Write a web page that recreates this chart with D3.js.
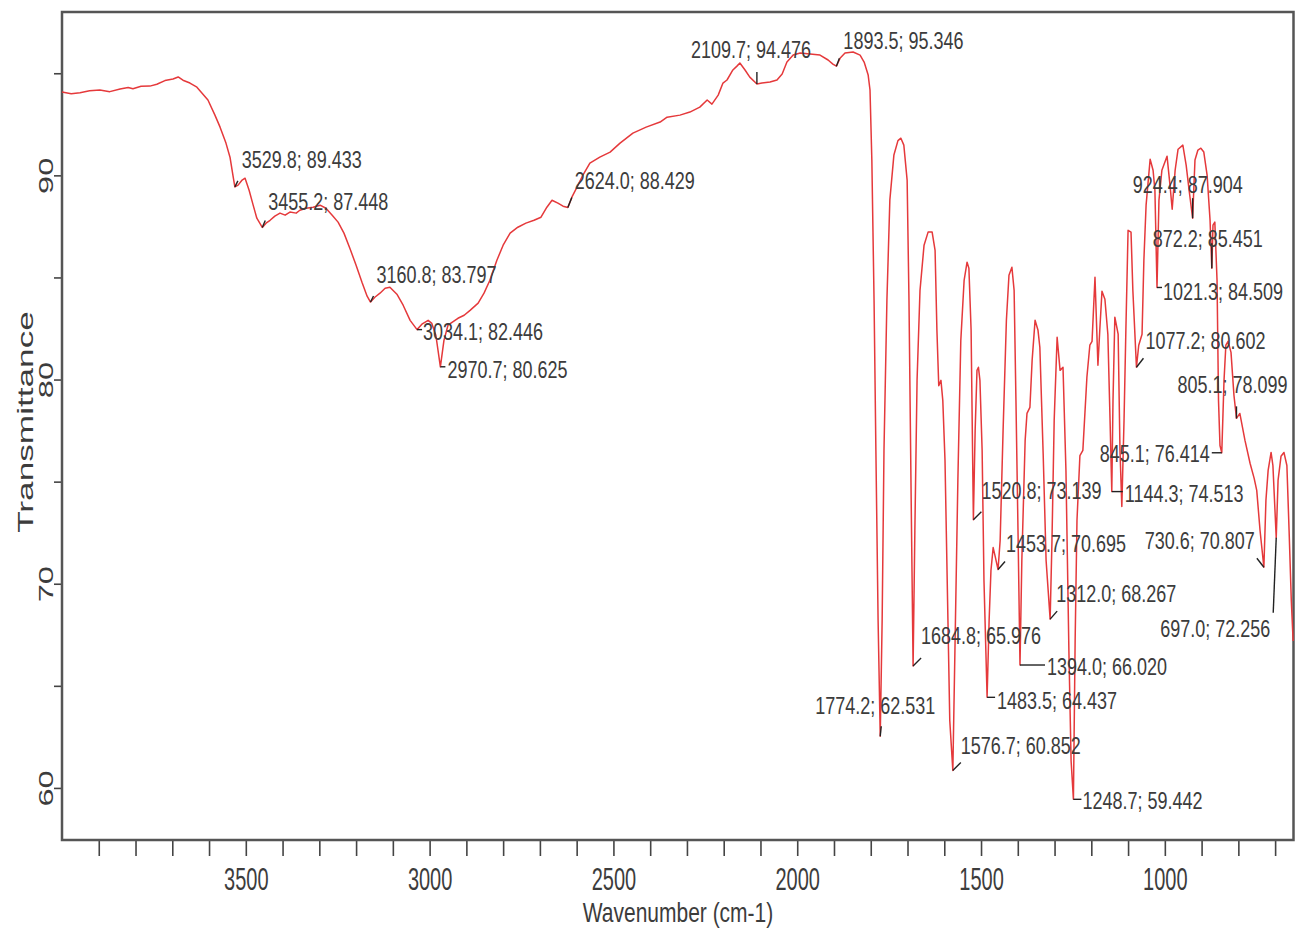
<!DOCTYPE html>
<html>
<head>
<meta charset="utf-8">
<script src="https://cdn.jsdelivr.net/npm/d3@7"></script>
<style>
body { margin: 0; background: #fff; }
svg { display: block; font-family: "Liberation Sans", Arial, sans-serif; }
</style>
</head>
<body>
<svg id="chart" width="1297" height="932"></svg>
<script>
// spectrum (cm-1 / %T)
var wavenumber = [
  4000, 3975, 3951, 3925, 3897, 3870, 3842, 3820, 3807, 3785, 3761, 3742, 3720, 3698, 3684, 3671, 3652, 3633,
  3603, 3584, 3570, 3554, 3543, 3535, 3529.8, 3521, 3510, 3502, 3491, 3480, 3470, 3455.2, 3445, 3434, 3421,
  3407, 3393, 3380, 3363, 3353, 3336, 3317, 3298, 3282, 3265, 3249, 3233, 3217, 3200, 3184, 3170, 3160.8,
  3149, 3135, 3121, 3108, 3089, 3072, 3053, 3034.1, 3021, 3004, 2994, 2983, 2970.7, 2961, 2950, 2939, 2923,
  2906, 2890, 2868, 2852, 2836, 2817, 2800, 2781, 2760, 2738, 2716, 2697, 2681, 2667, 2651, 2637, 2624.0,
  2613, 2599, 2583, 2564, 2537, 2509, 2482, 2447, 2411, 2373, 2354, 2319, 2292, 2265, 2245, 2232, 2215,
  2202, 2191, 2175, 2164, 2156, 2142, 2129, 2109.7, 2096, 2074, 2055, 2041, 2028, 2011, 1992, 1965, 1938,
  1916, 1903, 1893.5, 1883, 1870, 1848, 1829, 1818, 1807, 1802, 1797, 1791, 1786, 1780, 1774.2, 1769, 1764,
  1756, 1748, 1737, 1726, 1718, 1710, 1701, 1696, 1690, 1684.8, 1680, 1674, 1666, 1655, 1644, 1633, 1625,
  1620, 1615, 1609, 1604, 1598, 1590, 1585, 1576.7, 1571, 1563, 1555, 1546, 1538, 1533, 1527, 1520.8, 1516,
  1511, 1507, 1503, 1497, 1492, 1483.5, 1478, 1473, 1467, 1462, 1453.7, 1448, 1440, 1431, 1424, 1416, 1410,
  1405, 1399, 1394.0, 1389, 1380, 1375, 1367, 1361, 1353, 1345, 1340, 1331, 1323, 1312.0, 1307, 1301, 1293,
  1285, 1277, 1269, 1261, 1255, 1248.7, 1244, 1239, 1231, 1223, 1212, 1204, 1198, 1190, 1182, 1177, 1171,
  1163, 1155, 1149, 1144.3, 1141, 1136, 1127, 1122, 1117, 1111, 1106, 1100, 1092, 1087, 1077.2, 1071, 1062,
  1057, 1051, 1040, 1032, 1027, 1021.3, 1016, 1008, 994, 986, 980, 972, 964, 951, 942, 934, 924.4, 918, 910,
  902, 894, 885, 877, 872.2, 869, 864, 858, 854, 850, 845.1, 839, 834, 828, 820, 812, 805.1, 796, 782, 768,
  757, 750, 741, 730.6, 725, 719, 711, 706, 697.0, 692, 684, 676, 668, 662, 656, 651
];
var transmittance = [
  94.08, 94.00, 94.05, 94.14, 94.18, 94.10, 94.23, 94.30, 94.24, 94.36, 94.37, 94.46, 94.64, 94.72, 94.82, 94.66, 94.52, 94.32,
  93.69, 92.95, 92.36, 91.58, 90.89, 90.00, 89.433, 89.52, 89.77, 89.86, 89.27, 88.54, 87.90, 87.448, 87.66, 87.80, 88.00,
  88.15, 88.05, 88.20, 88.15, 88.29, 88.39, 88.44, 88.54, 88.39, 88.05, 87.71, 87.17, 86.43, 85.60, 84.76, 84.08, 83.797,
  84.03, 84.23, 84.47, 84.52, 84.18, 83.64, 82.90, 82.446, 82.71, 82.90, 82.75, 82.17, 80.625, 81.92, 82.66, 82.80, 83.00,
  83.15, 83.39, 83.74, 84.23, 84.86, 85.84, 86.58, 87.17, 87.46, 87.66, 87.80, 87.95, 88.44, 88.78, 88.64, 88.49, 88.429,
  88.93, 89.42, 90.01, 90.60, 90.89, 91.14, 91.58, 92.07, 92.36, 92.61, 92.85, 92.95, 93.10, 93.34, 93.69, 93.49, 93.93,
  94.52, 94.67, 95.16, 95.35, 95.50, 95.16, 94.81, 94.476, 94.52, 94.57, 94.67, 94.96, 95.55, 95.89, 95.99, 95.94, 95.89,
  95.65, 95.45, 95.346, 95.75, 95.99, 96.04, 95.89, 95.55, 94.91, 94.18, 90.75, 83.88, 76.53, 68.20, 62.531, 68.20, 76.50,
  83.90, 88.80, 91.00, 91.70, 91.82, 91.48, 89.76, 83.90, 74.08, 65.976, 72.60, 79.96, 84.37, 86.58, 87.22, 87.22, 86.33,
  82.41, 79.70, 79.96, 78.98, 76.04, 68.20, 63.29, 60.852, 66.73, 75.06, 81.92, 84.86, 85.75, 85.45, 82.41, 73.139, 77.51,
  80.45, 80.60, 79.96, 76.53, 70.16, 64.437, 68.20, 70.65, 71.77, 71.38, 70.695, 72.12, 77.51, 82.90, 85.11, 85.50, 84.37,
  78.98, 72.12, 66.020, 71.14, 77.02, 78.34, 78.64, 80.94, 82.90, 82.41, 81.58, 76.38, 71.14, 68.267, 72.12, 78.00, 82.07,
  80.45, 80.60, 75.55, 66.73, 61.33, 59.442, 67.22, 73.10, 76.28, 76.53, 80.11, 81.68, 81.87, 85.01, 80.70, 82.41, 84.32,
  83.93, 82.22, 78.00, 74.513, 78.98, 83.05, 82.22, 76.53, 73.78, 78.00, 82.41, 87.31, 87.22, 84.37, 80.602, 81.68, 82.22,
  85.84, 88.54, 90.79, 90.25, 89.27, 84.509, 88.78, 90.25, 90.94, 89.52, 88.34, 90.25, 91.28, 91.48, 90.50, 89.27, 87.904, 90.75, 91.24,
  91.33, 91.14, 90.01, 87.80, 85.451, 87.56, 87.71, 84.86, 78.98, 76.77, 76.414, 79.96, 81.68, 81.87, 81.33, 79.23, 78.099, 78.34, 77.02, 75.89,
  75.16, 74.57, 72.61, 70.807, 74.08, 75.55, 76.43, 75.79, 72.256, 75.06, 76.24, 76.43, 75.79, 72.61, 69.18, 67.20
];

// picked peaks
var peakWavenumber = [3529.8, 3455.2, 3160.8, 3034.1, 2970.7, 2624.0, 2109.7, 1893.5, 1774.2, 1684.8, 1576.7, 1520.8, 1483.5,
                      1453.7, 1394.0, 1312.0, 1248.7, 1144.3, 1077.2, 1021.3, 924.4, 872.2, 805.1, 845.1, 730.6, 697.0];
var peakTransmittance = [89.433, 87.448, 83.797, 82.446, 80.625, 88.429, 94.476, 95.346, 62.531, 65.976, 60.852, 73.139, 64.437,
                         70.695, 66.020, 68.267, 59.442, 74.513, 80.602, 84.509, 87.904, 85.451, 78.099, 76.414, 70.807, 72.256];

// axis ticks
var xMinorTicks = d3.range(700, 4000, 100);
var yTicks = [60, 65, 70, 75, 80, 85, 90, 95];

// label placement next to each peak: text offset (tx,ty), leader end (lx,ly)
var labelLayout = [
  [7, -27, 3, -6, "start"], [6, -26, 3, -7, "start"], [6, -27, 3, -6, "start"], [6, 2, 5, 0, "start"],
  [7, 3, 5, 0, "start"], [7, -27, 4, -10, "start"], [-66, -34, 0, -12, "start"], [7, -26, 3, -8, "start"],
  [-65, -31, 1, -10, "start"], [8, -30, 8, -8, "start"], [8, -25, 8, -8, "start"], [8, -29, 8, -8, "start"],
  [10, 3, 8, 0, "start"], [8, -26, 7, -8, "start"], [27, 2, 25, 0, "start"], [6, -26, 7, -8, "start"],
  [9, 1, 8, 0, "start"], [13, 2, 11, 0, "start"], [9, -27, 7, -9, "start"], [6, 4, 5, 0, "start"],
  [-60, -34, 0, -20, "start"], [-59, -30, 0, -25, "start"], [-59, -34, 0, -12, "start"], [-12, 1, -10, 0, "end"],
  [-9, -27, -7, -9, "end"], [-6, 91, -3, 75, "end"]
];

var width = 1297,
    height = 932,
    margins = {top: 12, bottom: 92, left: 62, right: 3.5};

var svg = d3.select("#chart");

var x = d3.scaleLinear()
    .domain([4000, 650])
    .range([margins.left, width - margins.right]);

var y = d3.scaleLinear()
    .domain([57.45, 98])
    .range([height - margins.bottom, margins.top]);

var textColor = "#3c3c3c";

// x axis
var xAxis = svg.append("g")
    .attr("transform", "translate(0," + (height - margins.bottom) + ")")
    .call(d3.axisBottom(x)
        .tickValues(xMinorTicks)
        .tickSize(16)
        .tickFormat(function(d) { return d % 500 === 0 ? d : ""; }));
xAxis.select(".domain").remove();
xAxis.selectAll(".tick line").attr("stroke", "#444").attr("stroke-width", 1.6);
xAxis.selectAll(".tick text")
    .attr("y", 0).attr("dy", 0)
    .attr("transform", "translate(0,50) scale(1,1.55)")
    .attr("fill", textColor)
    .style("font-size", "20px");

// y axis
var yAxis = svg.append("g")
    .attr("transform", "translate(" + margins.left + ",0)")
    .call(d3.axisLeft(y)
        .tickValues(yTicks)
        .tickSize(8)
        .tickFormat(function(d) { return d % 10 === 0 ? d : ""; }));
yAxis.select(".domain").remove();
yAxis.selectAll(".tick line").attr("stroke", "#444").attr("stroke-width", 1.6);
yAxis.selectAll(".tick text")
    .attr("x", 0).attr("dy", 0)
    .attr("text-anchor", "middle")
    .attr("transform", "translate(-9,0) scale(1,1.55) rotate(-90)")
    .attr("fill", textColor)
    .style("font-size", "21px");

// frame
svg.append("rect")
    .attr("x", margins.left)
    .attr("y", margins.top)
    .attr("width", width - margins.left - margins.right)
    .attr("height", height - margins.top - margins.bottom)
    .attr("fill", "none")
    .attr("stroke", "#555")
    .attr("stroke-width", 2.5);

// axis titles
svg.append("text")
    .attr("transform", "translate(678,922) scale(1,1.35)")
    .attr("text-anchor", "middle")
    .attr("fill", textColor)
    .style("font-size", "21px")
    .text("Wavenumber (cm-1)");

svg.append("text")
    .attr("transform", "translate(33,422) scale(1,1.6) rotate(-90)")
    .attr("text-anchor", "middle")
    .attr("fill", textColor)
    .style("font-size", "22px")
    .text("Transmittance");

// spectrum
var spectrum = wavenumber.map(function(w, i) { return {w: w, t: transmittance[i]}; });

var line = d3.line()
    .x(function(d) { return x(d.w); })
    .y(function(d) { return y(d.t); });

svg.append("path")
    .datum(spectrum)
    .attr("fill", "none")
    .attr("stroke", "#e5393b")
    .attr("stroke-width", 1.5)
    .attr("stroke-linejoin", "round")
    .attr("d", line);

// peak labels
var peaks = peakWavenumber.map(function(w, i) {
    return {w: w, t: peakTransmittance[i], layout: labelLayout[i]};
});

var labels = svg.append("g").attr("class", "peaks");

labels.selectAll("line")
    .data(peaks)
    .enter()
    .append("line")
    .attr("x1", function(d) { return x(d.w); })
    .attr("y1", function(d) { return y(d.t); })
    .attr("x2", function(d) { return x(d.w) + d.layout[2]; })
    .attr("y2", function(d) { return y(d.t) + d.layout[3]; })
    .attr("stroke", "#222")
    .attr("stroke-width", 1.4);

labels.selectAll("text")
    .data(peaks)
    .enter()
    .append("text")
    .attr("transform", function(d) {
        return "translate(" + (x(d.w) + d.layout[0]) + "," + (y(d.t) + d.layout[1]) + ") scale(1,1.3)";
    })
    .attr("dy", "0.36em")
    .attr("text-anchor", function(d) { return d.layout[4]; })
    .attr("fill", textColor)
    .style("font-size", "18px")
    .text(function(d) { return d.w.toFixed(1) + "; " + d.t.toFixed(3); });
</script>
</body>
</html>
